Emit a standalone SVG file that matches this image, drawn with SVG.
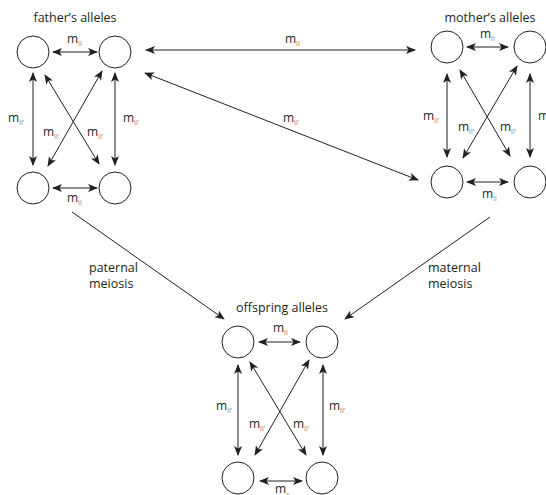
<svg xmlns="http://www.w3.org/2000/svg" width="546" height="495" viewBox="0 0 546 495">
  <defs>
    <marker id="ah" viewBox="0 0 10 8" refX="9" refY="4" markerWidth="10" markerHeight="8" markerUnits="userSpaceOnUse" orient="auto-start-reverse">
      <path d="M0,0 L10,4 L0,8 L2.5,4 Z" fill="#231f20"/>
    </marker>
  </defs>
  <style>
    .allele { fill: #fff; stroke: #231f20; stroke-width: 1; }
    .link { stroke: #231f20; stroke-width: 1; fill: none; marker-start: url(#ah); marker-end: url(#ah); }
    .one { stroke: #231f20; stroke-width: 1; fill: none; marker-end: url(#ah); }
    text { font-family: "Open Sans", "Liberation Sans", sans-serif; fill: #231f20; }
    .title { font-size: 12.5px; text-anchor: middle; }
    .rate { font-size: 12px; }
    .sub { font-size: 6.5px; fill: #7a7a7a; }
    .lbl { font-size: 12.5px; }
  </style>

  <!-- father -->
  <g id="father">
    <text class="title" x="75" y="22">father’s alleles</text>
    <circle class="allele" cx="33" cy="52" r="16"/>
    <circle class="allele" cx="115" cy="52" r="16"/>
    <circle class="allele" cx="33" cy="188" r="16"/>
    <circle class="allele" cx="115" cy="188" r="16"/>
  </g>

  <!-- mother -->
  <g id="mother">
    <text class="title" x="490" y="22">mother’s alleles</text>
    <circle class="allele" cx="447" cy="47" r="16"/>
    <circle class="allele" cx="530" cy="47" r="16"/>
    <circle class="allele" cx="447" cy="182" r="16"/>
    <circle class="allele" cx="530" cy="182" r="16"/>
  </g>

  <!-- offspring -->
  <g id="offspring">
    <text class="title" x="282" y="312">offspring alleles</text>
    <circle class="allele" cx="238" cy="342" r="16"/>
    <circle class="allele" cx="322" cy="342" r="16"/>
    <circle class="allele" cx="238" cy="478" r="16"/>
    <circle class="allele" cx="322" cy="478" r="16"/>
  </g>

  <g id="connectors">
    <!-- within father -->
    <line class="link" x1="53" y1="52" x2="97" y2="52"/>
    <line class="link" x1="53" y1="188" x2="97" y2="188"/>
    <line class="link" x1="33" y1="73" x2="33" y2="165"/>
    <line class="link" x1="115" y1="73" x2="115" y2="165"/>
    <line class="link" x1="45" y1="75" x2="99" y2="164"/>
    <line class="link" x1="102" y1="71" x2="48" y2="166"/>
    <!-- within mother -->
    <line class="link" x1="467" y1="47" x2="508" y2="47"/>
    <line class="link" x1="467" y1="182" x2="508" y2="182"/>
    <line class="link" x1="447" y1="74" x2="447" y2="157"/>
    <line class="link" x1="530" y1="74" x2="530" y2="157"/>
    <line class="link" x1="460" y1="70" x2="510" y2="156"/>
    <line class="link" x1="517" y1="66" x2="463" y2="158"/>
    <!-- between parents -->
    <line class="link" x1="146" y1="50" x2="415" y2="50"/>
    <line class="link" x1="145" y1="73" x2="418" y2="180"/>
    <!-- meiosis -->
    <line class="one" x1="72" y1="212" x2="224" y2="319"/>
    <line class="one" x1="490" y1="217" x2="345" y2="319"/>
    <!-- within offspring -->
    <line class="link" x1="259" y1="342" x2="300" y2="342"/>
    <line class="link" x1="260" y1="481" x2="302" y2="481"/>
    <line class="link" x1="238" y1="365" x2="238" y2="455"/>
    <line class="link" x1="323" y1="365" x2="323" y2="455"/>
    <line class="link" x1="250" y1="362" x2="306" y2="455"/>
    <line class="link" x1="309" y1="360" x2="255" y2="455"/>
  </g>

  <!-- rate labels (slight opacity keeps the small glyphs in grey antialiasing) -->
  <g id="labels" opacity="0.999">
    <text class="rate" x="67" y="43">m<tspan class="sub" dy="3">II</tspan></text>
    <text class="rate" x="8" y="122">m<tspan class="sub" dy="3">II’</tspan></text>
    <text class="rate" x="123" y="122">m<tspan class="sub" dy="3">II’</tspan></text>
    <text class="rate" x="43" y="136">m<tspan class="sub" dy="3">II’</tspan></text>
    <text class="rate" x="87" y="136">m<tspan class="sub" dy="3">II’</tspan></text>
    <text class="rate" x="67" y="202">m<tspan class="sub" dy="3">II</tspan></text>

    <text class="rate" x="480" y="38">m<tspan class="sub" dy="3">II</tspan></text>
    <text class="rate" x="423" y="120">m<tspan class="sub" dy="3">II’</tspan></text>
    <text class="rate" x="538" y="120">m<tspan class="sub" dy="3">II’</tspan></text>
    <text class="rate" x="458" y="131">m<tspan class="sub" dy="3">II’</tspan></text>
    <text class="rate" x="500" y="131">m<tspan class="sub" dy="3">II’</tspan></text>
    <text class="rate" x="482" y="198">m<tspan class="sub" dy="3">II</tspan></text>

    <text class="rate" x="285" y="43">m<tspan class="sub" dy="3">II</tspan></text>
    <text class="rate" x="283" y="122">m<tspan class="sub" dy="3">II’</tspan></text>

    <text class="lbl" x="89" y="272">paternal</text>
    <text class="lbl" x="89" y="288">meiosis</text>
    <text class="lbl" x="428" y="272">maternal</text>
    <text class="lbl" x="428" y="288">meiosis</text>

    <text class="rate" x="273" y="332">m<tspan class="sub" dy="3">II</tspan></text>
    <text class="rate" x="216" y="410">m<tspan class="sub" dy="3">II’</tspan></text>
    <text class="rate" x="329" y="410">m<tspan class="sub" dy="3">II’</tspan></text>
    <text class="rate" x="249" y="428">m<tspan class="sub" dy="3">II’</tspan></text>
    <text class="rate" x="293" y="428">m<tspan class="sub" dy="3">II’</tspan></text>
    <text class="rate" x="275" y="493">m<tspan class="sub" dy="5">II</tspan></text>
  </g>
</svg>
